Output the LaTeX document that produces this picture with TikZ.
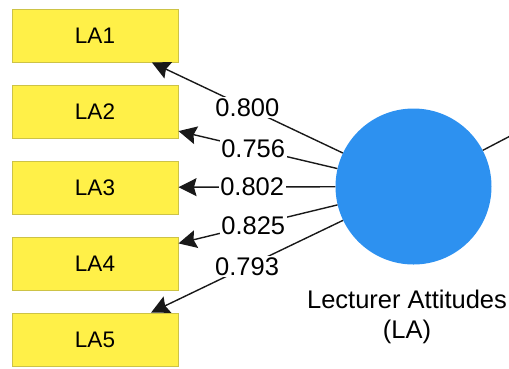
\documentclass[tikz,border=0pt]{standalone}
\usepackage{fontspec}
\setmainfont{Liberation Sans}
\usetikzlibrary{arrows.meta}
\definecolor{itemfill}{RGB}{255,240,72}
\definecolor{itemdraw}{RGB}{205,195,70}
\definecolor{latentfill}{RGB}{45,145,240}
\tikzset{
  indicator/.style={draw=itemdraw, fill=itemfill, line width=1pt,
    minimum width=166pt, minimum height=53pt, inner sep=0pt,
    font=\fontsize{22.5}{26}\selectfont},
  latent/.style={circle, fill=latentfill, draw=none,
    minimum size=156pt, inner sep=0pt},
  loading/.style={line width=1.4pt, draw=black!90,
    -{Stealth[length=18pt,width=18pt,inset=2.5pt]}},
  weight/.style={fill=white, inner sep=1.5pt, font=\fontsize{25.5}{28}\selectfont},
  caption/.style={align=center, font=\fontsize{25.5}{30}\selectfont}
}
\begin{document}
\begin{tikzpicture}[x=1pt, y=-1pt]
  \useasboundingbox (0,0) rectangle (509,368);
  \clip (0,0) rectangle (509,368);

  % indicator boxes
  \node[indicator] (la1) at (95,35.5)  {LA1};
  \node[indicator] (la2) at (95,111.5) {LA2};
  \node[indicator] (la3) at (95,187.5) {LA3};
  \node[indicator] (la4) at (95,263.5) {LA4};
  \node[indicator] (la5) at (95,339.5) {LA5};

  % latent construct
  \node[latent] (la) at (413.5,186.5) {};
  \node[caption] (lacap) at (407,317) {Lecturer Attitudes\\(LA)};

  % path leaving towards the next construct
  \coordinate (next) at (560,110);
  \draw[line width=1.4pt, draw=black!90] (la) -- (next);

  % outer loadings
  \draw[loading] (la) -- node[weight, pos=0.5]  {0.800} (la1);
  \draw[loading] (la) -- node[weight, pos=0.53] {0.756} (la2);
  \draw[loading] (la) -- node[weight, pos=0.53] {0.802} (la3);
  \draw[loading] (la) -- node[weight, pos=0.53] {0.825} (la4);
  \draw[loading] (la) -- node[weight, pos=0.5]  {0.793} (la5);
\end{tikzpicture}
\end{document}
